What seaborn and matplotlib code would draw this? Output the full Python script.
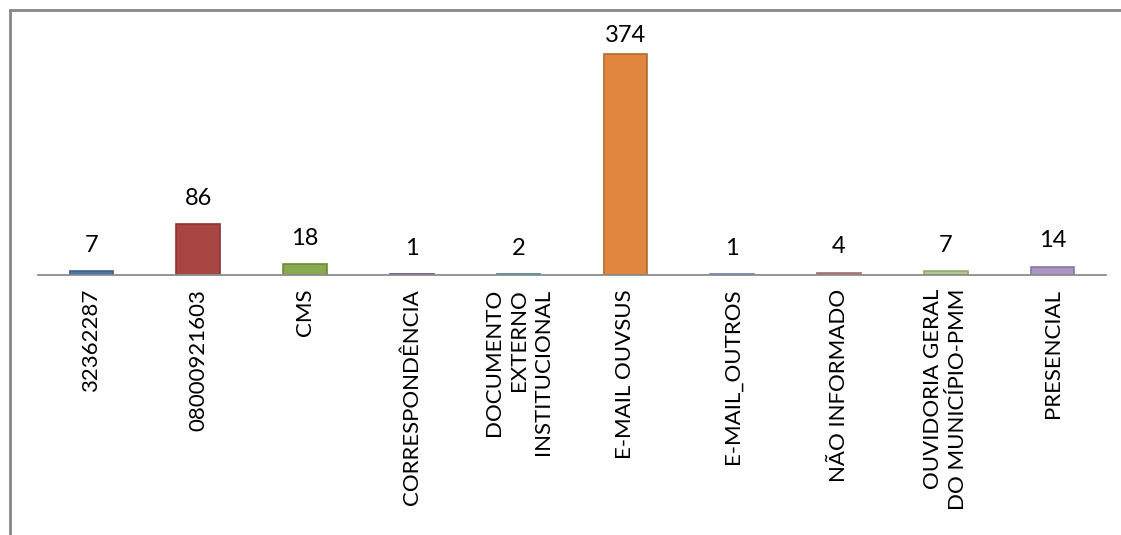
import matplotlib
matplotlib.use("Agg")
import matplotlib.pyplot as plt
import seaborn as sns
import pandas as pd
from matplotlib.lines import Line2D

categories = ["32362287", "08000921603", "CMS", "CORRESPONDÊNCIA",
              "DOCUMENTO\nEXTERNO\nINSTITUCIONAL", "E-MAIL OUVSUS", "E-MAIL_OUTROS",
              "NÃO INFORMADO", "OUVIDORIA GERAL\nDO MUNICÍPIO-PMM", "PRESENCIAL"]
values = [7, 86, 18, 1, 2, 374, 1, 4, 7, 14]
fill_colors = ["#4A76AC", "#A94644", "#89A94E", "#7A5F9C", "#45A0B8", "#E0863F",
               "#7C9CCB", "#C98886", "#B3C98C", "#A797C2"]
edge_colors = ["#3A5E8C", "#8A3533", "#6E8A3C", "#5F4A7E", "#357F93", "#B56A30",
               "#6080B0", "#A86C6A", "#93A870", "#8878A3"]

sns.set_theme(style="white")
plt.rcParams['font.family'] = ['Lato', 'DejaVu Sans']

df = pd.DataFrame({"cat": categories, "val": values})

fig = plt.figure(figsize=(11.21, 5.35), dpi=100)
ax = fig.add_axes([38/1121, (535-275)/535, (1106-38)/1121, (275-20)/535])

sns.barplot(data=df, x="cat", y="val", hue="cat", palette=fill_colors,
            legend=False, width=0.41, ax=ax, saturation=1)
for patch, ec in zip(ax.patches, edge_colors):
    patch.set_edgecolor(ec)
    patch.set_linewidth(1.2)

ymax = 255 / (221 / 374)
ax.set_ylim(0, ymax)
ax.set_xlim(-0.5, len(categories) - 0.5)

vmax = max(values)
for i, v in enumerate(values):
    off = 6 if v == vmax else 11
    ax.annotate(str(v), (i, v), xytext=(0, off), textcoords="offset points",
                ha="center", va="bottom", fontsize=17, color="#000000")

ax.set_xlabel("")
ax.set_ylabel("")
ax.set_yticks([])
ax.set_xticks(range(len(categories)))
ax.set_xticklabels(categories, rotation=90, fontsize=16, multialignment="right",
                   va="top", ha="center", linespacing=1.3)
ax.tick_params(axis="x", length=0, pad=10, colors="#000000")
for s in ["top", "right", "left"]:
    ax.spines[s].set_visible(False)
ax.spines["bottom"].set_color("#8C8C8C")
ax.spines["bottom"].set_linewidth(1.3)

# chart area border (left and top)
fig.add_artist(Line2D([9.5/1121, 9.5/1121], [0, 1 - 10/535], color="#868686", lw=2,
                      transform=fig.transFigure))
fig.add_artist(Line2D([9.5/1121, 1], [1 - 10/535, 1 - 10/535], color="#868686", lw=2,
                      transform=fig.transFigure))

fig.savefig("out.png", dpi=100, facecolor="white")
